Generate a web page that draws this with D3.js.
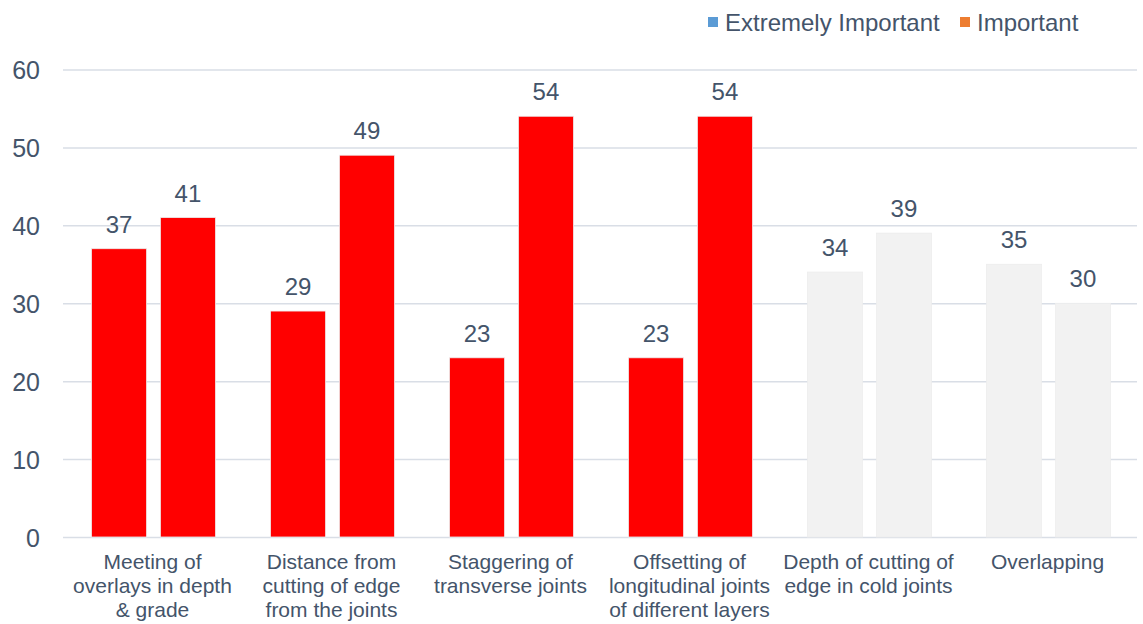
<!DOCTYPE html>
<html>
<head>
<meta charset="utf-8">
<script src="https://cdn.jsdelivr.net/npm/d3@7"></script>
<style>
  html, body { margin: 0; padding: 0; background: #ffffff; }
  svg { display: block; font-family: "Liberation Sans", Arial, sans-serif; }
</style>
</head>
<body>
<svg id="chart" width="1143" height="624"></svg>
<script>
// Survey responses per construction aspect
const categories = [
  ["Meeting of", "overlays in depth", "& grade"],
  ["Distance from", "cutting of edge", "from the joints"],
  ["Staggering of", "transverse joints"],
  ["Offsetting of", "longitudinal joints", "of different layers"],
  ["Depth of cutting of", "edge in cold joints"],
  ["Overlapping"]
];
const seriesNames = ["Extremely Important", "Important"];
const extremelyImportant = [37, 29, 23, 23, 34, 35];
const important = [41, 49, 54, 54, 39, 30];
const barColors = ["#FF0000", "#FF0000", "#FF0000", "#FF0000", "#F2F2F2", "#F2F2F2"];
const legendColors = ["#5B9BD5", "#ED7D31"];
const yTicks = [0, 10, 20, 30, 40, 50, 60];

const textColor = "#44546A";
const gridColor = "#D9DEE6";

const svg = d3.select("#chart");
const plot = { left: 63, right: 1137, top: 69.5, bottom: 537 };

const y = d3.scaleLinear().domain([0, 60]).range([plot.bottom, plot.top]);
const x0 = d3.scaleBand().domain(d3.range(categories.length)).range([plot.left, plot.right]).padding(0);
const x1 = d3.scaleBand().domain([0, 1]).range([28.5, 152.5]).paddingInner(0.2);

// horizontal gridlines and tick labels
const yAxis = d3.axisLeft(y).tickValues(yTicks).tickSize(-(plot.right - plot.left)).tickPadding(23);
const gy = svg.append("g").attr("transform", `translate(${plot.left},0)`).call(yAxis);
gy.select(".domain").remove();
gy.selectAll(".tick line").attr("stroke", gridColor).attr("stroke-width", 1.5);
gy.selectAll(".tick text")
  .attr("fill", textColor)
  .style("font-size", "25px")
  .attr("dy", "0.36em");

// bars
const values = [extremelyImportant, important];
const groups = svg.append("g").selectAll("g")
  .data(categories.map((c, i) => i))
  .join("g")
  .attr("transform", i => `translate(${x0(i)},0)`);

groups.selectAll("rect")
  .data(i => values.map((s, k) => ({ k, i, v: s[i] })))
  .join("rect")
  .attr("x", d => x1(d.k))
  .attr("width", x1.bandwidth())
  .attr("y", d => y(d.v))
  .attr("height", d => y(0) - y(d.v))
  .attr("fill", d => barColors[d.i])
  .attr("stroke", "#EDEDED")
  .attr("stroke-width", 0.8);

// value labels
groups.selectAll("text.val")
  .data(i => values.map((s, k) => ({ k, i, v: s[i] })))
  .join("text")
  .attr("class", "val")
  .attr("x", d => x1(d.k) + x1.bandwidth() / 2)
  .attr("y", d => y(d.v) - 16)
  .attr("text-anchor", "middle")
  .attr("fill", textColor)
  .style("font-size", "24px")
  .text(d => d.v);

// category labels
const xl = svg.append("g");
categories.forEach((lines, i) => {
  const t = xl.append("text")
    .attr("x", x0(i) + x0.bandwidth() / 2)
    .attr("y", 569)
    .attr("text-anchor", "middle")
    .attr("fill", textColor)
    .style("font-size", "21px");
  lines.forEach((ln, j) => {
    t.append("tspan")
      .attr("x", x0(i) + x0.bandwidth() / 2)
      .attr("y", 569 + j * 24)
      .text(ln);
  });
});

// legend
const legendX = [708, 960];
const legend = svg.append("g");
seriesNames.forEach((name, k) => {
  legend.append("rect")
    .attr("x", legendX[k]).attr("y", 17)
    .attr("width", 10).attr("height", 10)
    .attr("fill", legendColors[k]);
  legend.append("text")
    .attr("x", legendX[k] + 17).attr("y", 30.5)
    .attr("fill", textColor)
    .style("font-size", "24px")
    .text(name);
});
</script>
</body>
</html>
